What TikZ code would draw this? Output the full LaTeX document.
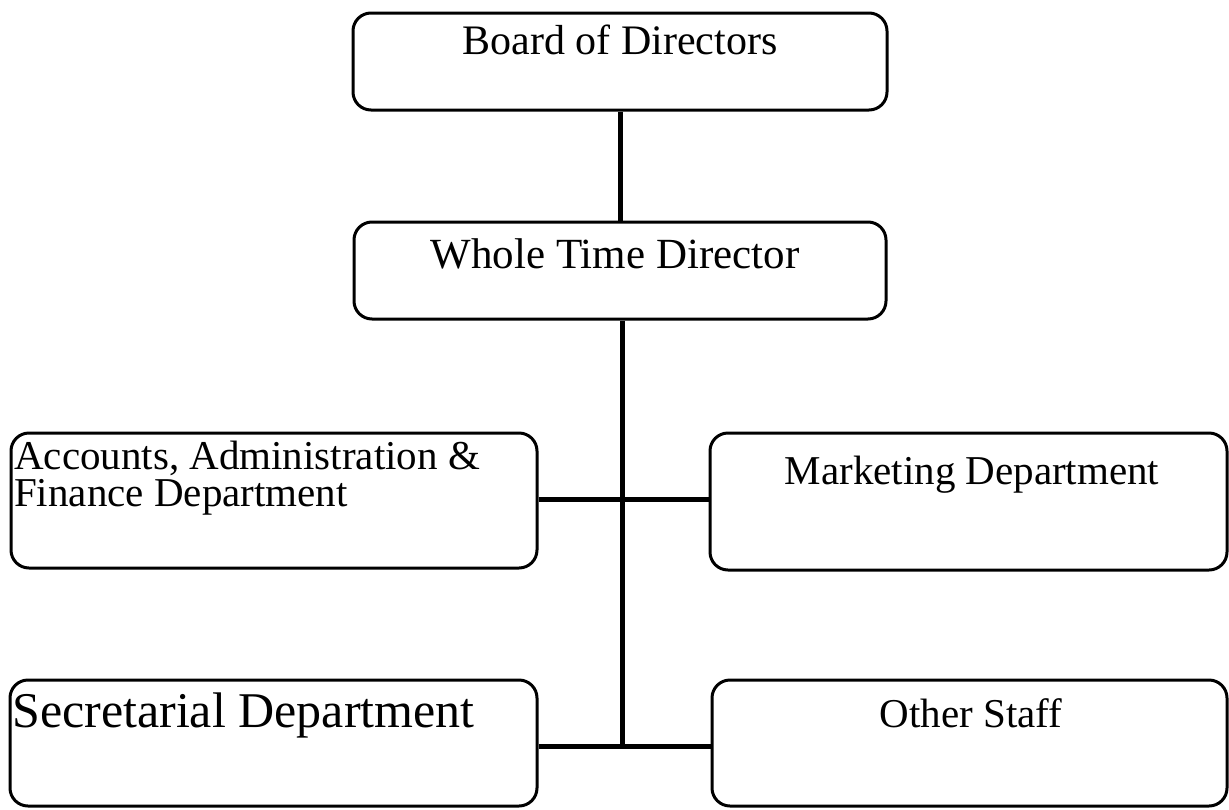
\documentclass[tikz,border=0pt]{standalone}
\usepackage{fontspec}
\setmainfont{Liberation Serif}
\begin{document}
\begin{tikzpicture}[x=1pt,y=-1pt,
  box/.style={draw=black, line width=3pt, rounded corners=18pt, fill=white, inner sep=0pt},
  link/.style={draw=black, line width=5pt},
  lbl/.style={inner sep=0pt, anchor=base},
  lblw/.style={inner sep=0pt, anchor=base west},
  fs/.style={font=\fontsize{#1}{#1}\selectfont}]
\useasboundingbox (0,0) rectangle (1229,809);

% boxes
\node[box, minimum width=534pt, minimum height=97pt]  (board) at (620,61.5) {};
\node[box, minimum width=532pt, minimum height=97pt]  (wtd)   at (620,270.5) {};
\node[box, minimum width=526pt, minimum height=135pt] (acc)   at (274,500.5) {};
\node[box, minimum width=517pt, minimum height=137pt] (mkt)   at (968.5,501.5) {};
\node[box, minimum width=527pt, minimum height=126pt] (sec)   at (273.5,743) {};
\node[box, minimum width=515pt, minimum height=126pt] (oth)   at (969.5,743) {};

% labels
\node[lbl, fs=42]  (tboard) at (620,54)  {Board of Directors};
\node[lbl, fs=43]  (twtd)   at (615,268) {Whole Time Director};
\node[lblw, font=\fontsize{41}{35}\selectfont] (tacc) at (14,469)
  {\begin{tabular}[t]{@{}l@{}}Accounts, Administration \&\\Finance Department\end{tabular}};
\node[lbl, fs=41]  (tmkt)   at (972,484) {Marketing Department};
\node[lblw, fs=50] (tsec)   at (12,727)  {Secretarial Department};
\node[lbl, fs=41]  (toth)   at (971,727) {Other Staff};

% connectors
\coordinate (j1) at (622,499);
\coordinate (j2) at (622,746);
\draw[link] (board.south) -- (wtd.north);
\draw[link] (wtd.south -| j1) -- (j2);
\draw[link] (acc.east |- j1) -- (mkt.west |- j1);
\draw[link] (sec.east |- j2) -- (oth.west |- j2);
\end{tikzpicture}
\end{document}
